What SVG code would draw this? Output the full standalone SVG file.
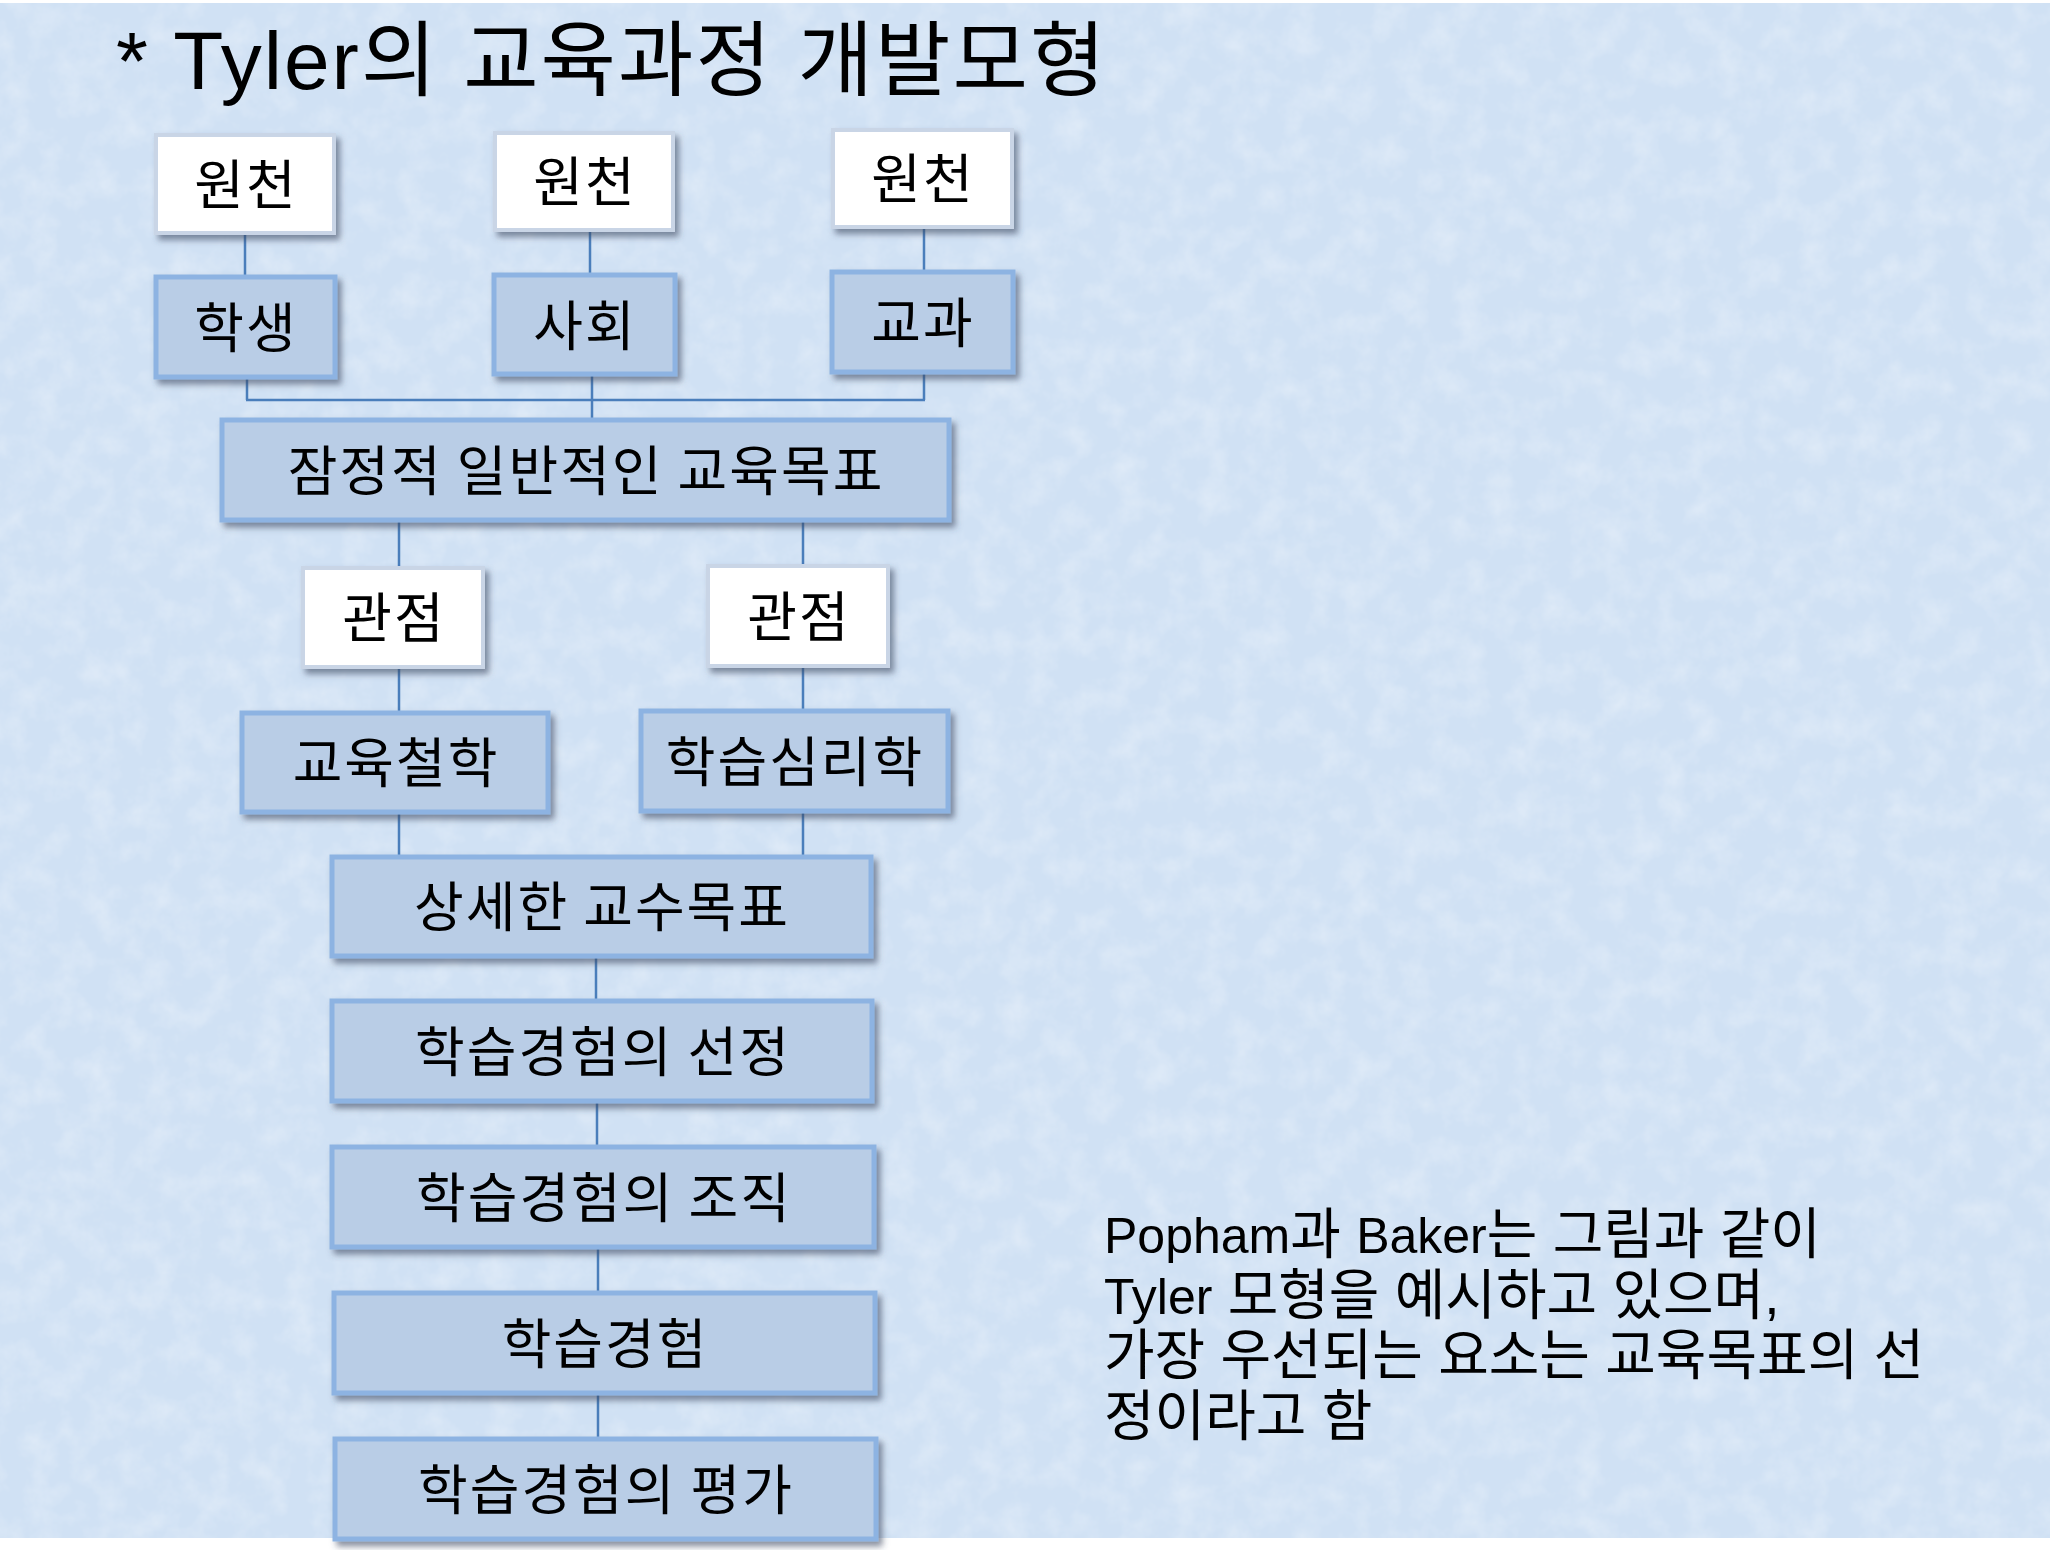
<svg xmlns="http://www.w3.org/2000/svg" width="2060" height="1550" viewBox="0 0 2060 1550">
<defs>
  <filter id="tex" x="0" y="0" width="100%" height="100%">
    <feTurbulence type="fractalNoise" baseFrequency="0.035" numOctaves="4" seed="7" result="n"/>
    <feColorMatrix in="n" type="matrix" values="0 0 0 0 1  0 0 0 0 1  0 0 0 0 1  0 0 0 0.55 -0.22" result="w"/>
    <feComposite in="w" in2="SourceGraphic" operator="in"/>
  </filter>
  <filter id="sh" x="-10%" y="-20%" width="125%" height="150%">
    <feDropShadow dx="4" dy="5" stdDeviation="3" flood-color="#3a4a60" flood-opacity="0.6"/>
  </filter>
</defs>
<style>
  .blue { fill: #b9cde6; stroke: #8db3e2; stroke-width: 5; filter: url(#sh); }
  .white { fill: #ffffff; stroke: #c9d5e6; stroke-width: 4; filter: url(#sh); }
  .lbl { font-family: "Noto Sans CJK KR", "Liberation Sans", sans-serif; font-size: 54px; letter-spacing: 2px; fill: #000; text-anchor: middle; dominant-baseline: central; }
  .conn line { stroke: #4a7ebb; stroke-width: 2.5; }
  .para { font-family: "Liberation Sans", "Noto Sans CJK KR", sans-serif; font-size: 55px; fill: #000; }
  .lat { font-size: 50px; }
</style>
<rect x="0" y="0" width="2060" height="1550" fill="#ffffff"/>
<rect x="0" y="3" width="2050" height="1535" fill="#d0e1f4"/>
<rect x="0" y="3" width="2050" height="1535" fill="#d0e1f4" filter="url(#tex)"/>

<text x="116" y="89" font-family="Liberation Sans, Noto Sans CJK KR, sans-serif" font-size="82" letter-spacing="2" fill="#000">* Tyler의 교육과정 개발모형</text>

<g class="conn" id="connectors">
  <line x1="245" y1="233" x2="245" y2="277"/>
  <line x1="590" y1="230" x2="590" y2="275"/>
  <line x1="924" y1="227" x2="924" y2="272"/>
  <line x1="247" y1="377" x2="247" y2="400"/>
  <line x1="924" y1="372" x2="924" y2="400"/>
  <line x1="246" y1="400" x2="925" y2="400"/>
  <line x1="592" y1="374" x2="592" y2="420"/>
  <line x1="399" y1="520" x2="399" y2="568"/>
  <line x1="803" y1="520" x2="803" y2="566"/>
  <line x1="399" y1="667" x2="399" y2="713"/>
  <line x1="803" y1="666" x2="803" y2="711"/>
  <line x1="399" y1="812" x2="399" y2="857"/>
  <line x1="803" y1="811" x2="803" y2="857"/>
  <line x1="596" y1="956" x2="596" y2="1001"/>
  <line x1="597" y1="1101" x2="597" y2="1147"/>
  <line x1="598" y1="1247" x2="598" y2="1293"/>
  <line x1="598" y1="1393" x2="598" y2="1439"/>
</g>

<g id="source1"><rect class="white" x="156" y="135" width="178" height="98"/><text class="lbl" x="246" y="181">원천</text></g>
<g id="source2"><rect class="white" x="495" y="133" width="178" height="97"/><text class="lbl" x="585" y="178">원천</text></g>
<g id="source3"><rect class="white" x="833" y="130" width="179" height="97"/><text class="lbl" x="923" y="175">원천</text></g>

<g id="student"><rect class="blue" x="156" y="277" width="179" height="100"/><text class="lbl" x="246" y="324">학생</text></g>
<g id="society"><rect class="blue" x="494" y="275" width="181" height="99"/><text class="lbl" x="585" y="322">사회</text></g>
<g id="subject"><rect class="blue" x="832" y="272" width="181" height="100"/><text class="lbl" x="923" y="319">교과</text></g>

<g id="tentative"><rect class="blue" x="222" y="420" width="727" height="100"/><text class="lbl" x="586" y="467">잠정적 일반적인 교육목표</text></g>

<g id="view1"><rect class="white" x="303" y="568" width="180" height="99"/><text class="lbl" x="394" y="614">관점</text></g>
<g id="view2"><rect class="white" x="708" y="566" width="180" height="100"/><text class="lbl" x="799" y="613">관점</text></g>

<g id="philosophy"><rect class="blue" x="242" y="713" width="306" height="99"/><text class="lbl" x="396" y="759">교육철학</text></g>
<g id="psychology"><rect class="blue" x="641" y="711" width="307" height="100"/><text class="lbl" x="795" y="758">학습심리학</text></g>

<g id="instructional"><rect class="blue" x="332" y="857" width="539" height="99"/><text class="lbl" x="602" y="903">상세한 교수목표</text></g>
<g id="selection"><rect class="blue" x="332" y="1001" width="540" height="100"/><text class="lbl" x="603" y="1048">학습경험의 선정</text></g>
<g id="organization"><rect class="blue" x="332" y="1147" width="542" height="100"/><text class="lbl" x="604" y="1194">학습경험의 조직</text></g>
<g id="experience"><rect class="blue" x="334" y="1293" width="541" height="100"/><text class="lbl" x="605" y="1340">학습경험</text></g>
<g id="evaluation"><rect class="blue" x="335" y="1439" width="541" height="100"/><text class="lbl" x="606" y="1486">학습경험의 평가</text></g>

<g id="note">
  <text class="para" x="1104" y="1253"><tspan class="lat">Popham</tspan>과 <tspan class="lat">Baker</tspan>는 그림과 같이</text>
  <text class="para" x="1104" y="1314"><tspan class="lat">Tyler</tspan> 모형을 예시하고 있으며,</text>
  <text class="para" x="1104" y="1374">가장 우선되는 요소는 교육목표의 선</text>
  <text class="para" x="1104" y="1435">정이라고 함</text>
</g>
</svg>
